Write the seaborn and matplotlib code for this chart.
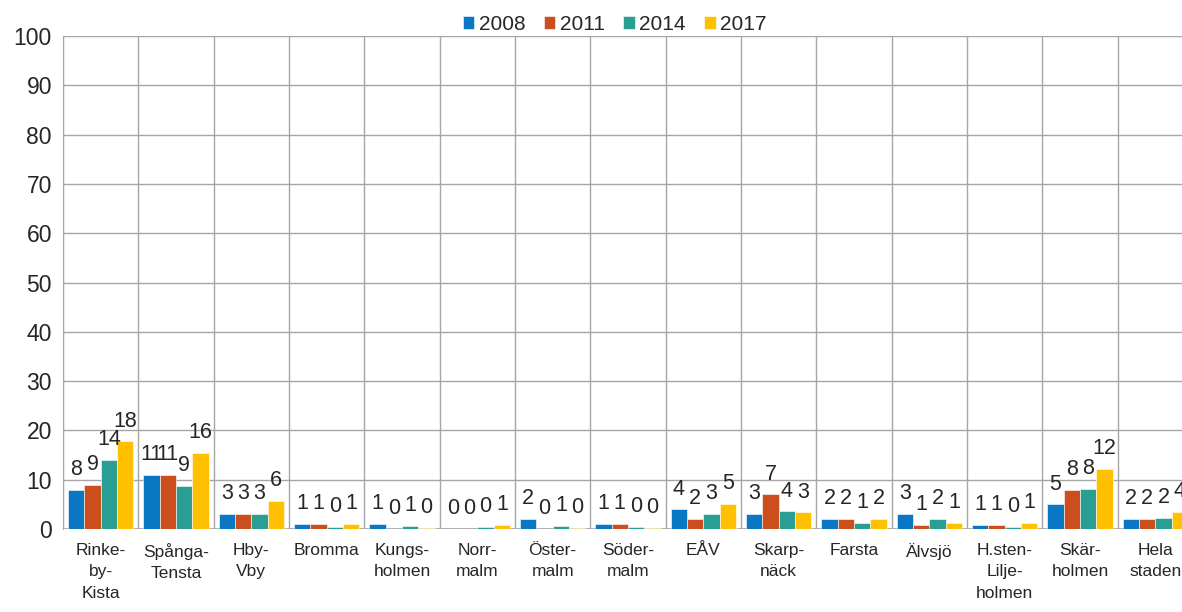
import seaborn as sns
import matplotlib.pyplot as plt
import numpy as np
import pandas as pd

omraden = ["Rinke-\nby-\nKista", "Spånga-\nTensta", "Hby-\nVby", "Bromma", "Kungs-\nholmen",
           "Norr-\nmalm", "Öster-\nmalm", "Söder-\nmalm", "EÅV", "Skarp-\nnäck", "Farsta",
           "Älvsjö", "H.sten-\nLilje-\nholmen", "Skär-\nholmen", "Hela\nstaden"]
ar = ["2008", "2011", "2014", "2017"]

v2008 = [8, 11, 3, 1, 1, 0, 2, 1, 4, 3, 2, 3, 0.9, 5, 2]
v2011 = [9, 11, 3, 1, 0.1, 0, 0.1, 1, 2, 7, 2, 0.8, 0.9, 8, 2]
v2014 = [14, 8.8, 3, 0.4, 0.6, 0.4, 0.6, 0.4, 3.1, 3.6, 1.3, 2.1, 0.4, 8.1, 2.2]
v2017 = [17.8, 15.5, 5.7, 1.1, 0.3, 0.9, 0.3, 0.3, 5.1, 3.4, 2, 1.2, 1.3, 12.2, 3.5]

farger = ["#0A77C4", "#CB4E1C", "#2A9E93", "#FFC000"]

dane = pd.DataFrame({
    "omrade": omraden * 4,
    "ar": np.repeat(ar, len(omraden)),
    "varde": v2008 + v2011 + v2014 + v2017,
})

sns.set_style("white")
plt.rcParams["font.family"] = ["Liberation Sans", "DejaVu Sans"]

fig = plt.figure(figsize=(11.82, 6.12), dpi=100)
ax = fig.add_axes([63 / 1182, 1 - 529 / 612, 1130 / 1182, 493 / 612])

sns.barplot(data=dane, x="omrade", y="varde", hue="ar", palette=farger,
            width=0.87, saturation=1, ax=ax, edgecolor="white", linewidth=0.4)

for c in ax.containers:
    ax.bar_label(c, labels=[str(int(b.get_height() + 0.5)) for b in c],
                 padding=7, fontsize=15.5)

ax.set_ylim(0, 100)
ax.set_xlim(-0.5, len(omraden) - 0.5)
ax.set_yticks(range(0, 101, 10))
ax.set_xticks(np.arange(-0.5, len(omraden), 1), minor=True)
ax.grid(axis="y", color="#A6A6A6", linewidth=1)
ax.grid(axis="x", which="minor", color="#A6A6A6", linewidth=1)
ax.set_axisbelow(True)
ax.tick_params(axis="x", which="minor", length=8, color="#A6A6A6", width=1)
ax.tick_params(axis="x", which="major", length=0, pad=10, labelsize=12.5)
ax.tick_params(axis="y", length=0, pad=8, labelsize=16.5)
for lbl in ax.get_xticklabels():
    lbl.set_linespacing(1.55)
    lbl.set_verticalalignment("top")

for s in ["top", "right", "bottom"]:
    ax.spines[s].set_visible(False)
ax.spines["left"].set_color("#A6A6A6")
ax.axhline(0, color="#A6A6A6", linewidth=1.2, zorder=0.5)

ax.set_xlabel("")
ax.set_ylabel("")
ax.legend(loc="upper center", bbox_to_anchor=(0.52 * 1182 / 1130 - 63 / 1130, 1.06),
          ncol=4, frameon=False, fontsize=15, handlelength=0.55, handleheight=0.55,
          handletextpad=0.2, columnspacing=0.9, borderaxespad=0)

plt.savefig("out.png", dpi=100)
